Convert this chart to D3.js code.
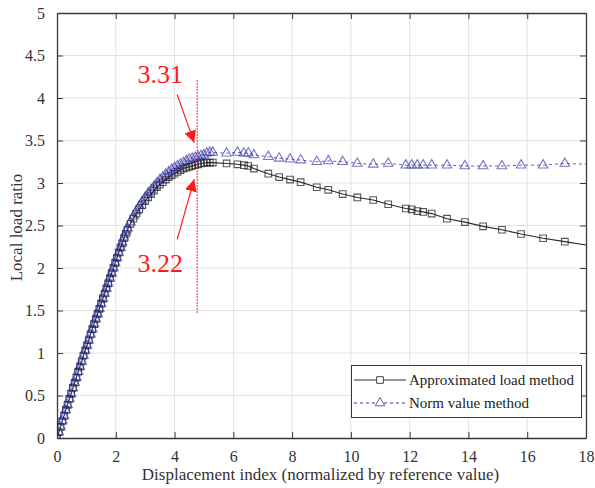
<!DOCTYPE html>
<html>
<head>
<meta charset="utf-8">
<script src="https://cdn.jsdelivr.net/npm/d3@7"></script>
<style>
  body { margin: 0; background: #fff; }
  text { font-family: "Liberation Serif", "Times New Roman", serif; }
</style>
</head>
<body>
<svg id="chart" width="595" height="488"></svg>
<script>
// Displacement index of each computed step (shared by both methods)
const displacement = [
  0, 0.06, 0.12, 0.18, 0.24, 0.30, 0.36, 0.42, 0.48, 0.54, 0.60, 0.66, 0.72, 0.78, 0.84, 0.90,
  0.96, 1.02, 1.08, 1.14, 1.20, 1.26, 1.32, 1.38, 1.44, 1.50, 1.56, 1.62, 1.68, 1.74, 1.80, 1.86,
  1.92, 1.98, 2.04, 2.10, 2.16, 2.22, 2.28, 2.34, 2.40,
  2.5, 2.6, 2.7, 2.8, 2.9, 3.0, 3.1, 3.2, 3.3, 3.4, 3.5, 3.6, 3.7, 3.8, 3.9, 4.0, 4.1, 4.2, 4.3,
  4.4, 4.5, 4.6, 4.7, 4.8, 4.9, 5.0,
  5.1, 5.2, 5.3, 5.77, 6.14, 6.36, 6.51, 6.70, 7.19, 7.56, 7.93, 8.29, 8.84, 9.23, 9.72, 10.22,
  10.76, 11.27, 11.87, 12.07, 12.26, 12.46, 12.75, 13.27, 13.88, 14.50, 15.14, 15.79, 16.54, 17.28
];

// Approximated load method
const approxLoad = [
  0, 0.07, 0.13, 0.20, 0.26, 0.33, 0.39, 0.46, 0.52, 0.59, 0.65, 0.71, 0.78, 0.84, 0.90, 0.97,
  1.03, 1.09, 1.15, 1.22, 1.28, 1.34, 1.40, 1.46, 1.52, 1.58, 1.64, 1.70, 1.76, 1.82, 1.88, 1.94,
  2.00, 2.06, 2.12, 2.18, 2.24, 2.29, 2.35, 2.40, 2.45,
  2.52, 2.58, 2.64, 2.69, 2.74, 2.79, 2.83, 2.87, 2.91, 2.95, 2.98, 3.01, 3.04, 3.07, 3.09, 3.11,
  3.13, 3.15, 3.17, 3.18, 3.19, 3.20, 3.21, 3.22, 3.23, 3.235,
  3.24, 3.24, 3.24, 3.23, 3.22, 3.21, 3.20, 3.17, 3.11, 3.07, 3.04, 3.01, 2.95, 2.92, 2.87, 2.83,
  2.80, 2.75, 2.70, 2.69, 2.67, 2.66, 2.64, 2.58, 2.54, 2.49, 2.45, 2.40, 2.35, 2.31
];

// Norm value method
const normValue = [
  0, 0.07, 0.13, 0.20, 0.26, 0.33, 0.39, 0.46, 0.52, 0.59, 0.65, 0.71, 0.78, 0.84, 0.90, 0.97,
  1.03, 1.09, 1.15, 1.22, 1.28, 1.34, 1.40, 1.46, 1.52, 1.58, 1.64, 1.70, 1.76, 1.82, 1.88, 1.94,
  2.00, 2.06, 2.12, 2.18, 2.24, 2.30, 2.36, 2.42, 2.47,
  2.54, 2.61, 2.67, 2.73, 2.78, 2.83, 2.88, 2.92, 2.96, 3.00, 3.04, 3.07, 3.10, 3.13, 3.16, 3.18,
  3.20, 3.22, 3.24, 3.26, 3.28, 3.29, 3.30, 3.31, 3.32, 3.33,
  3.35, 3.36, 3.36, 3.35, 3.36, 3.35, 3.35, 3.33, 3.31, 3.29, 3.28, 3.27, 3.25, 3.26, 3.25, 3.23,
  3.22, 3.23, 3.21, 3.21, 3.21, 3.21, 3.21, 3.21, 3.20, 3.20, 3.20, 3.21, 3.21, 3.23
];

// Curves run on to the right-hand limit past the last marker
const lineEndX = 18;
const approxEnd = 2.27;
const normEnd = 3.22;

const xTicks = [0, 2, 4, 6, 8, 10, 12, 14, 16, 18];
const yTicks = [0, 0.5, 1, 1.5, 2, 2.5, 3, 3.5, 4, 4.5, 5];
const xTickLabels = ["0", "2", "4", "6", "8", "10", "12", "14", "16", "18"];
const yTickLabels = ["0", "0.5", "1", "1.5", "2", "2.5", "3", "3.5", "4", "4.5", "5"];

// Peak marker: displacement of the reference line and the two annotated ratios
const markDisplacement = 4.77;
const markSpan = [1.47, 4.21];
const markNorm = 3.31;
const markApprox = 3.22;

const seriesNames = ["Approximated load method", "Norm value method"];

const svg = d3.select("#chart");
const L = 57, R = 586, T = 13, B = 438;

const x = d3.scaleLinear().domain([0, 18]).range([L, R]);
const y = d3.scaleLinear().domain([0, 5]).range([B, T]);

const AXIS = "#3a3a3a";
const BLACK = "#2a2a2a";
const BLUE = "#3a3ab4";
const MARK_BLUE = "#1e1e9c";
const RED = "#ff1a1a";

// grid
const grid = svg.append("g");
grid.selectAll("line.gx").data(xTicks.slice(1, -1)).join("line")
  .attr("x1", d => x(d)).attr("x2", d => x(d)).attr("y1", T).attr("y2", B)
  .attr("stroke", "#e3e3e3").attr("stroke-width", 1);
grid.selectAll("line.gy").data(yTicks.slice(1, -1)).join("line")
  .attr("x1", L).attr("x2", R).attr("y1", d => y(d)).attr("y2", d => y(d))
  .attr("stroke", "#e3e3e3").attr("stroke-width", 1);

// axes with inward ticks on all four sides
const fmtX = (d, i) => xTickLabels[i];
const fmtY = (d, i) => yTickLabels[i];
const axB = svg.append("g").attr("transform", `translate(0,${B})`)
  .call(d3.axisBottom(x).tickValues(xTicks).tickFormat(fmtX).tickSizeInner(-6).tickSizeOuter(0).tickPadding(13));
const axL = svg.append("g").attr("transform", `translate(${L},0)`)
  .call(d3.axisLeft(y).tickValues(yTicks).tickFormat(fmtY).tickSizeInner(-6).tickSizeOuter(0).tickPadding(12));
const axT = svg.append("g").attr("transform", `translate(0,${T})`)
  .call(d3.axisTop(x).tickValues(xTicks).tickFormat("").tickSizeInner(-6).tickSizeOuter(0));
const axR = svg.append("g").attr("transform", `translate(${R},0)`)
  .call(d3.axisRight(y).tickValues(yTicks).tickFormat("").tickSizeInner(-6).tickSizeOuter(0));
[axB, axL, axT, axR].forEach(g => {
  g.select(".domain").attr("stroke", AXIS).attr("stroke-width", 1.3);
  g.selectAll(".tick line").attr("stroke", AXIS).attr("stroke-width", 1);
  g.selectAll(".tick text").attr("fill", "#333").style("font-size", "16px")
    .style("font-family", '"Liberation Serif", "Times New Roman", serif');
});

// axis titles
svg.append("text").attr("x", (L + R) / 2 - 1).attr("y", 480)
  .attr("text-anchor", "middle").attr("fill", "#333").style("font-size", "17px")
  .text("Displacement index (normalized by reference value)");
svg.append("text").attr("transform", `translate(22,${(T + B) / 2 + 2}) rotate(-90)`)
  .attr("text-anchor", "middle").attr("fill", "#333").style("font-size", "17px")
  .text("Local load ratio");

// plot contents
const clipId = "plotclip";
svg.append("clipPath").attr("id", clipId).append("rect")
  .attr("x", L).attr("y", T).attr("width", R - L).attr("height", B - T);
const plot = svg.append("g").attr("clip-path", `url(#${clipId})`);

const approxPts = displacement.map((d, i) => [d, approxLoad[i]]);
const normPts = displacement.map((d, i) => [d, normValue[i]]);
const line = d3.line().x(d => x(d[0])).y(d => y(d[1]));

plot.append("path").datum(approxPts.concat([[lineEndX, approxEnd]]))
  .attr("d", line).attr("fill", "none").attr("stroke", BLACK).attr("stroke-width", 1.1);

const sq = d3.symbol().type(d3.symbolSquare).size(44);
plot.append("g").selectAll("path").data(approxPts).join("path")
  .attr("d", sq).attr("transform", d => `translate(${x(d[0])},${y(d[1])})`)
  .attr("fill", "none").attr("stroke", "#222").attr("stroke-opacity", 0.75).attr("stroke-width", 1.1);

plot.append("path").datum(normPts.concat([[lineEndX, normEnd]]))
  .attr("d", line).attr("fill", "none").attr("stroke", BLUE).attr("stroke-opacity", 0.8)
  .attr("stroke-width", 1).attr("stroke-dasharray", "3,3");

const tri = d3.symbol().type(d3.symbolTriangle).size(40);
plot.append("g").selectAll("path").data(normPts).join("path")
  .attr("d", tri).attr("transform", d => `translate(${x(d[0])},${y(d[1])})`)
  .attr("fill", "none").attr("stroke", MARK_BLUE).attr("stroke-opacity", 0.6).attr("stroke-width", 1.1);

// peak reference line and annotations
const mx = x(markDisplacement);
svg.append("line").attr("x1", mx).attr("x2", mx)
  .attr("y1", y(markSpan[1])).attr("y2", y(markSpan[0]))
  .attr("stroke", RED).attr("stroke-width", 1).attr("stroke-dasharray", "2,1");

svg.append("defs").append("marker").attr("id", "arrowhead")
  .attr("viewBox", "0 0 10 10").attr("refX", 10).attr("refY", 5)
  .attr("markerWidth", 12).attr("markerHeight", 12).attr("markerUnits", "userSpaceOnUse")
  .attr("orient", "auto")
  .append("path").attr("d", "M0,0 L10,5 L0,10 Z").attr("fill", RED);

const topY = y(markNorm) - 14, botY = y(markApprox) + 15;
svg.append("line").attr("x1", mx - 20).attr("y1", topY - 48).attr("x2", mx - 3).attr("y2", topY)
  .attr("stroke", RED).attr("stroke-width", 1.2).attr("marker-end", "url(#arrowhead)");
svg.append("line").attr("x1", mx - 20).attr("y1", botY + 60).attr("x2", mx - 3).attr("y2", botY)
  .attr("stroke", RED).attr("stroke-width", 1.2).attr("marker-end", "url(#arrowhead)");

svg.append("text").attr("x", mx - 37).attr("y", topY - 60).attr("text-anchor", "middle")
  .attr("fill", RED).style("font-size", "26px").text(markNorm.toFixed(2));
svg.append("text").attr("x", mx - 37).attr("y", botY + 93).attr("text-anchor", "middle")
  .attr("fill", RED).style("font-size", "26px").text(markApprox.toFixed(2));

// legend
const lg = svg.append("g");
lg.append("rect").attr("x", 351.5).attr("y", 365.5).attr("width", 230).attr("height", 52)
  .attr("fill", "#fff").attr("stroke", AXIS).attr("stroke-width", 1);
const rows = [
  { name: seriesNames[0], color: BLACK, dash: null, sym: sq, mstroke: "#444", yy: 380 },
  { name: seriesNames[1], color: BLUE, dash: "3,3", sym: tri, mstroke: "#5a5ac0", yy: 403 }
];
rows.forEach(r => {
  lg.append("line").attr("x1", 354).attr("x2", 406).attr("y1", r.yy).attr("y2", r.yy)
    .attr("stroke", r.color).attr("stroke-width", 1).attr("stroke-dasharray", r.dash);
  lg.append("path").attr("d", r.sym).attr("transform", `translate(380,${r.yy})`)
    .attr("fill", "#fff").attr("stroke", r.mstroke).attr("stroke-width", 1);
  lg.append("text").attr("x", 409).attr("y", r.yy + 5).attr("fill", "#222")
    .style("font-size", "15px").text(r.name);
});
</script>
</body>
</html>
